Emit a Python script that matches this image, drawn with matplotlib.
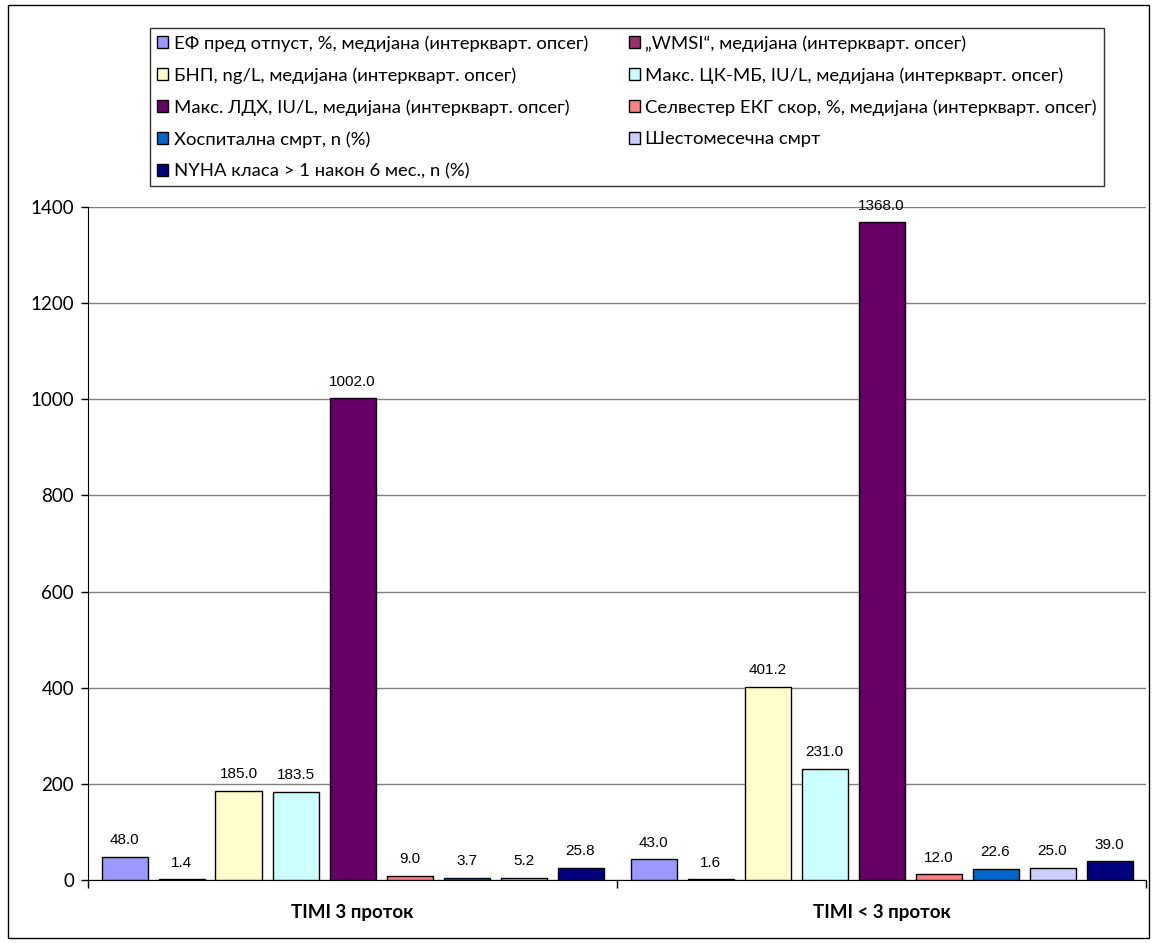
import matplotlib
matplotlib.use("Agg")
import matplotlib.pyplot as plt
from matplotlib.patches import Rectangle, Patch
import numpy as np

categories = ["TIMI 3 проток", "TIMI < 3 проток"]
series_names = [
    "ЕФ пред отпуст, %, медијана (интерквaрт. опсег)",
    "„WMSI“, медијана (интерквaрт. опсег)",
    "БНП, ng/L, медијана (интерквaрт. опсег)",
    "Макс. ЦК-МБ, IU/L, медијана (интерквaрт. опсег)",
    "Макс. ЛДХ, IU/L, медијана (интерквaрт. опсег)",
    "Селвестер ЕКГ скор, %, медијана (интерквaрт. опсег)",
    "Хоспитална смрт, n (%)",
    "Шестомесечна смрт",
    "NYHA класа > 1 након 6 мес., n (%)",
]
values_timi3 = [48.0, 1.4, 185.0, 183.5, 1002.0, 9.0, 3.7, 5.2, 25.8]
values_timi_lt3 = [43.0, 1.6, 401.2, 231.0, 1368.0, 12.0, 22.6, 25.0, 39.0]
colors = ["#9999FF", "#993366", "#FFFFCC", "#CCFFFF", "#660066",
          "#FF8080", "#0066CC", "#CCCCFF", "#000080"]
yticks = [0, 200, 400, 600, 800, 1000, 1200, 1400]

W, H = 1154, 943
fig = plt.figure(figsize=(W / 100, H / 100), dpi=100)
fig.patches.append(Rectangle((8 / W, 5 / H), (1149 - 8) / W, (938 - 5) / H,
                             transform=fig.transFigure, fill=False,
                             edgecolor="black", linewidth=1.0))

ax = fig.add_axes([88 / W, (H - 880) / H, (1146 - 88) / W, (880 - 207) / H])

n = len(series_names)
pitch = 57 / 529
width = 46 / 529
data = np.array([values_timi3, values_timi_lt3])
x = np.arange(len(categories))
for i in range(n):
    pos = x + (i - (n - 1) / 2) * pitch
    bars = ax.bar(pos, data[:, i], width=width, color=colors[i],
                  edgecolor="black", linewidth=1.0, zorder=3)
    for b, v in zip(bars, data[:, i]):
        ax.annotate(f"{v:.1f}", (b.get_x() + b.get_width() / 2, v),
                    xytext=(0, 7), textcoords="offset points",
                    ha="center", va="bottom", fontsize=11,
                    family="Liberation Sans", color="black")

ax.set_xlim(-0.5, 1.5)
ax.set_ylim(0, 1400)
ax.set_yticks(yticks)
ax.set_yticklabels([str(t) for t in yticks], family="Lato", fontsize=13.5)
ax.yaxis.grid(True, color="#808080", linewidth=1.0, zorder=0)
ax.set_axisbelow(True)
ax.tick_params(axis="y", direction="out", length=5, width=1, pad=5)
ax.set_xticks([-0.5, 0.5, 1.5])
ax.set_xticklabels(["", "", ""])
ax.tick_params(axis="x", direction="out", length=6, width=1)
ax.set_xticks(x, minor=True)
ax.set_xticklabels(categories, minor=True, family="Lato", fontsize=13.5,
                   fontweight="bold")
ax.tick_params(axis="x", which="minor", length=0, pad=17)
for s in ["top", "right"]:
    ax.spines[s].set_visible(False)
ax.spines["left"].set_color("black")
ax.spines["bottom"].set_color("black")

order = [0, 2, 4, 6, 8, 1, 3, 5, 7]
handles = [Patch(facecolor=colors[i], edgecolor="black", linewidth=1.0) for i in order]
labels = [series_names[i] for i in order]
leg = fig.legend(handles, labels, ncol=2,
                 loc="upper left",
                 bbox_to_anchor=(150 / W, 1 - 182 / H, (1104 - 150) / W, (182 - 28) / H),
                 mode="expand", borderaxespad=0,
                 prop={"family": "Lato", "size": 13.3},
                 frameon=True, fancybox=False, edgecolor="black",
                 handlelength=0.6, handleheight=0.6, handletextpad=0.3,
                 labelspacing=0.84, columnspacing=1.0, borderpad=0.38)
leg.get_frame().set_linewidth(1.0)

fig.savefig("out.png", dpi=100)
